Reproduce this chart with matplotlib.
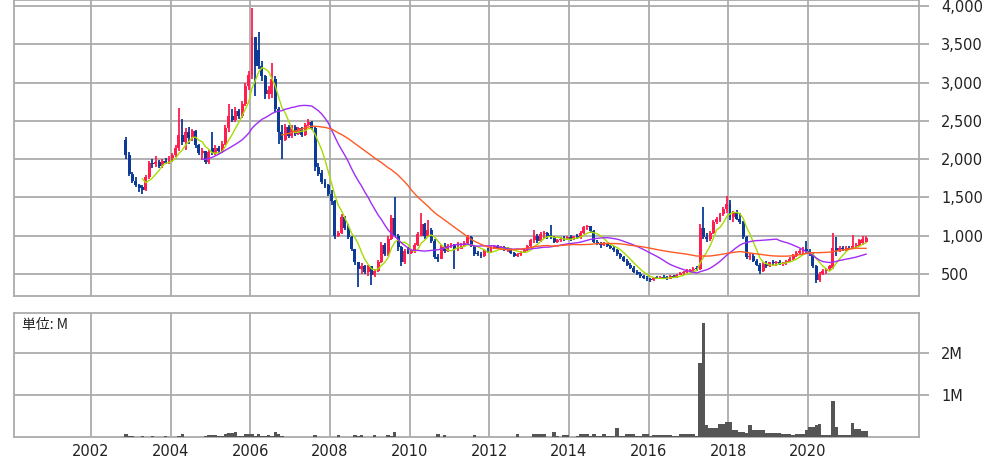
import numpy as np
import pandas as pd
import matplotlib
matplotlib.use('Agg')
import matplotlib.pyplot as plt
from matplotlib.ticker import FuncFormatter

plt.rcParams['font.family'] = ['DejaVu Sans', 'Noto Sans CJK JP']

# ---------------- data (monthly, from 2002-11 to 2021-06) ----------------
start_month = '2002-11'

opens = [
    2250, 2050,
    1800, 1720, 1660, 1640, 1600, 1760, 1950, 1930, 1960, 1910, 1980, 1950,
    2010, 2050, 2150, 2320, 2220, 2350, 2280, 2370, 2180, 2080, 2100, 1960,
    2150, 2080, 2150, 2100, 2200, 2400, 2560, 2510, 2630, 2560, 2720, 2950,
    3100, 3590, 3430, 3220, 3080, 2850, 2850, 3050, 2650, 2350, 2250, 2420,
    2300, 2420, 2330, 2400, 2320, 2450, 2480, 2400, 1900, 1820, 1700, 1660,
    1550, 1450, 1000, 1040, 1250, 1100, 980, 820, 650, 560, 600, 520,
    600, 480, 540, 650, 880, 760, 960, 1230, 1000, 850, 650, 800,
    780, 800, 880, 1000, 1150, 1000, 1080, 930, 720, 700, 850, 800,
    870, 880, 830, 830, 870, 900, 980, 870, 780, 760, 730, 800,
    790, 840, 860, 840, 850, 820, 830, 780, 740, 760, 780, 810,
    860, 940, 1000, 930, 1020, 1040, 1010, 980, 920, 940, 960, 950,
    980, 960, 990, 970, 1040, 1110, 1120, 1060, 920, 900, 880, 900,
    870, 840, 810, 760, 720, 670, 620, 580, 530, 500, 470, 450,
    430, 420, 450, 440, 460, 450, 440, 470, 460, 490, 510, 530,
    540, 550, 570, 560, 1100, 980, 950, 1040, 1180, 1200, 1280, 1350,
    1420, 1250, 1300, 1220, 1180, 980, 720, 740, 670, 620, 540, 630,
    600, 650, 640, 660, 630, 650, 660, 700, 740, 780, 800, 820,
    800, 760, 600, 420, 500, 540, 560, 580, 840, 800, 840, 820,
    840, 830, 870, 880, 900, 920,
]
highs = [
    2290, 2090,
    1830, 1760, 1680, 1660, 1790, 1980, 2000, 2040, 1990, 2000, 2010, 2040,
    2080, 2180, 2670, 2520, 2400, 2420, 2390, 2380, 2200, 2140, 2110, 2120,
    2350, 2180, 2170, 2230, 2450, 2720, 2650, 2680, 2660, 2760, 3000, 3150,
    3980, 3600, 3660, 3280, 3100, 2960, 3260, 3080, 2680, 2450, 2460, 2440,
    2450, 2440, 2420, 2420, 2470, 2520, 2500, 2420, 1950, 1860, 1740, 1680,
    1600, 1460, 1060, 1280, 1260, 1150, 1000, 830, 660, 640, 620, 620,
    610, 560, 680, 920, 900, 1000, 1270, 1500, 1020, 870, 830, 850,
    830, 900, 1050, 1290, 1160, 1200, 1100, 950, 760, 880, 900, 890,
    900, 890, 920, 900, 930, 1010, 990, 880, 800, 790, 830, 840,
    860, 880, 880, 870, 860, 850, 840, 790, 780, 800, 830, 880,
    960, 1070, 1020, 1050, 1060, 1050, 1140, 1000, 960, 980, 990, 1000,
    1010, 1000, 1020, 1060, 1130, 1140, 1130, 1070, 940, 920, 920, 910,
    880, 860, 830, 780, 740, 690, 640, 600, 550, 520, 490, 470,
    450, 460, 470, 470, 480, 470, 480, 490, 500, 520, 540, 560,
    570, 590, 600, 1150, 1370, 1030, 1060, 1200, 1250, 1300, 1380, 1520,
    1460, 1320, 1330, 1300, 1190, 1000, 780, 760, 700, 640, 660, 670,
    660, 680, 670, 680, 660, 680, 720, 760, 800, 830, 850, 930,
    830, 770, 620, 520, 560, 580, 620, 1030, 980, 860, 870, 860,
    870, 1010, 900, 960, 990, 990,
]
lows = [
    2000, 1780,
    1690, 1640, 1570, 1550, 1580, 1740, 1880, 1900, 1880, 1890, 1930, 1940,
    1960, 2030, 2110, 2180, 2120, 2200, 2230, 2150, 2050, 1990, 1930, 1940,
    2050, 2060, 2070, 2080, 2180, 2350, 2480, 2490, 2520, 2540, 2700, 2900,
    3050, 2830, 3180, 3020, 2780, 2780, 2800, 2620, 2200, 2000, 2230, 2270,
    2280, 2300, 2310, 2290, 2300, 2430, 2380, 1850, 1780, 1680, 1620, 1520,
    1400, 960, 980, 1020, 1080, 950, 800, 620, 330, 500, 500, 470,
    350, 460, 520, 640, 730, 740, 940, 980, 800, 600, 630, 760,
    760, 780, 860, 990, 950, 980, 900, 700, 650, 690, 780, 790,
    840, 560, 800, 820, 850, 880, 850, 740, 740, 710, 720, 770,
    780, 820, 820, 810, 800, 790, 760, 720, 720, 740, 770, 800,
    850, 900, 900, 920, 960, 960, 960, 900, 900, 920, 930, 940,
    930, 940, 950, 960, 1020, 1080, 1040, 900, 880, 840, 860, 850,
    820, 790, 740, 700, 650, 600, 560, 510, 480, 450, 430, 410,
    390, 410, 430, 430, 440, 420, 430, 450, 450, 480, 490, 510,
    520, 530, 540, 550, 950, 920, 930, 1020, 1150, 1180, 1260, 1300,
    1200, 1180, 1200, 1150, 950, 700, 680, 650, 600, 500, 530, 580,
    590, 620, 610, 620, 600, 620, 650, 680, 720, 750, 760, 780,
    740, 580, 380, 400, 480, 500, 540, 570, 740, 790, 800, 800,
    810, 820, 840, 860, 880, 900,
]
closes = [
    2050, 1800,
    1720, 1660, 1620, 1600, 1760, 1950, 1930, 1960, 1910, 1980, 1950, 2010,
    2050, 2150, 2320, 2220, 2350, 2280, 2370, 2180, 2080, 2100, 1960, 2090,
    2080, 2150, 2100, 2200, 2400, 2560, 2510, 2630, 2560, 2720, 2950, 3100,
    3600, 3220, 3220, 3080, 2850, 2900, 3050, 2650, 2350, 2250, 2420, 2300,
    2420, 2330, 2400, 2320, 2450, 2480, 2400, 1900, 1800, 1700, 1650, 1550,
    1450, 1000, 1040, 1250, 1100, 980, 820, 650, 560, 600, 520, 600,
    480, 540, 650, 880, 760, 960, 1230, 1000, 850, 650, 800, 780,
    800, 880, 1020, 1150, 1000, 1080, 930, 720, 700, 850, 800, 870,
    880, 830, 830, 870, 900, 980, 870, 760, 760, 730, 800, 790,
    840, 860, 840, 850, 820, 830, 780, 740, 760, 780, 810, 860,
    940, 1000, 930, 1020, 1040, 980, 980, 920, 940, 960, 950, 980,
    960, 990, 970, 1040, 1110, 1120, 1060, 920, 900, 880, 900, 870,
    840, 810, 760, 720, 670, 620, 580, 530, 500, 470, 450, 430,
    420, 450, 440, 460, 450, 440, 470, 460, 490, 510, 530, 540,
    550, 570, 560, 1100, 980, 950, 1040, 1180, 1220, 1280, 1350, 1420,
    1250, 1300, 1220, 1180, 980, 720, 740, 670, 620, 540, 630, 600,
    650, 640, 660, 630, 650, 660, 700, 740, 780, 800, 820, 800,
    760, 600, 420, 500, 540, 560, 600, 840, 800, 840, 820, 840,
    830, 870, 880, 940, 960, 970,
]
volumes_m = [
    0.08, 0.02,
    0.02, 0.01, 0.01, 0.02, 0.01, 0.01, 0.02, 0.01, 0.01, 0.01, 0.02, 0.01,
    0.01, 0.01, 0.02, 0.08, 0.01, 0.01, 0.01, 0.01, 0.01, 0.01, 0.02, 0.05,
    0.05, 0.05, 0.02, 0.03, 0.08, 0.09, 0.10, 0.11, 0.03, 0.02, 0.08, 0.08,
    0.08, 0.03, 0.08, 0.02, 0.03, 0.05, 0.02, 0.11, 0.08, 0.02, 0.01, 0.01,
    0.01, 0.01, 0.01, 0.01, 0.01, 0.01, 0.01, 0.05, 0.01, 0.01, 0.01, 0.01,
    0.01, 0.01, 0.05, 0.01, 0.01, 0.01, 0.01, 0.05, 0.03, 0.05, 0.01, 0.01,
    0.01, 0.05, 0.01, 0.01, 0.01, 0.05, 0.02, 0.11, 0.01, 0.01, 0.01, 0.01,
    0.01, 0.01, 0.01, 0.01, 0.01, 0.01, 0.01, 0.01, 0.08, 0.01, 0.05, 0.01,
    0.01, 0.01, 0.01, 0.01, 0.01, 0.01, 0.01, 0.05, 0.01, 0.01, 0.01, 0.01,
    0.01, 0.01, 0.01, 0.01, 0.01, 0.01, 0.01, 0.01, 0.08, 0.01, 0.01, 0.01,
    0.01, 0.07, 0.07, 0.06, 0.07, 0.01, 0.01, 0.11, 0.02, 0.01, 0.05, 0.05,
    0.01, 0.01, 0.02, 0.08, 0.08, 0.08, 0.02, 0.08, 0.03, 0.02, 0.08, 0.02,
    0.02, 0.03, 0.21, 0.03, 0.02, 0.08, 0.08, 0.08, 0.02, 0.02, 0.08, 0.08,
    0.02, 0.05, 0.05, 0.05, 0.05, 0.05, 0.05, 0.02, 0.02, 0.08, 0.08, 0.08,
    0.08, 0.08, 0.03, 1.76, 2.73, 0.29, 0.21, 0.21, 0.21, 0.32, 0.32, 0.36,
    0.36, 0.16, 0.16, 0.11, 0.11, 0.10, 0.29, 0.16, 0.16, 0.16, 0.16, 0.10,
    0.10, 0.10, 0.10, 0.10, 0.08, 0.08, 0.08, 0.05, 0.08, 0.08, 0.08, 0.16,
    0.24, 0.24, 0.29, 0.32, 0.05, 0.05, 0.05, 0.86, 0.24, 0.05, 0.05, 0.05,
    0.05, 0.34, 0.19, 0.19, 0.15, 0.15,
]
ma_windows = [6, 24, 48]
year_ticks = [2002, 2004, 2006, 2008, 2010, 2012, 2014, 2016, 2018, 2020]
price_ticks = [500, 1000, 1500, 2000, 2500, 3000, 3500, 4000]
vol_ticks = [1, 2]
vol_tick_labels = ['1M', '2M']
unit_label = '単位: M'

# ---------------- styling ----------------
RED = '#ff1e4e'
BLUE = '#0c3a96'
MA_COLORS = ['#a6dc00', '#a22cf5', '#ff5a22']
GRID = '#ababab'
TXT = '#222222'

o = np.array(opens, float)
h = np.array(highs, float)
l = np.array(lows, float)
c = np.array(closes, float)
v = np.array(volumes_m, float)

dates = pd.date_range(start_month, periods=len(c), freq='MS')
xpos = dates.year + (dates.month - 0.5) / 12.0

fig = plt.figure(figsize=(9.89, 4.61), dpi=100)
ax = fig.add_axes([14 / 989, 165 / 461, 905 / 989, 296 / 461])
axv = fig.add_axes([14 / 989, 24 / 461, 905 / 989, 124 / 461])

xmin, xmax = 2000.067, 2022.787

for a in (ax, axv):
    a.set_xlim(xmin, xmax)
    a.set_xticks(year_ticks)
    a.grid(True, color=GRID, linewidth=1.3)
    a.set_axisbelow(True)
    for s in a.spines.values():
        s.set_color(GRID)
        s.set_linewidth(1.3)
    a.yaxis.tick_right()
    a.tick_params(axis='y', direction='out', length=7, width=1.3, color=GRID,
                  labelsize=10.5, labelcolor=TXT, pad=9)
    a.tick_params(axis='x', length=0, labelsize=10.5, labelcolor=TXT, pad=5)

# candles
up = c >= o
colors = np.where(up, RED, BLUE)
ax.vlines(xpos, l, h, colors=colors, linewidth=1.3, zorder=3)
body_bottom = np.minimum(o, c)
body_h = np.maximum(np.abs(c - o), 14)
ax.bar(xpos, body_h, bottom=body_bottom, width=0.074, color=colors,
       linewidth=0, zorder=3)

# moving averages
cs = pd.Series(c)
for w, col in zip(ma_windows, MA_COLORS):
    ma = cs.rolling(w).mean()
    ax.plot(xpos, ma, color=col, linewidth=1.0, zorder=4)

ax.set_ylim(212, 4078)
ax.set_yticks(price_ticks)
ax.yaxis.set_major_formatter(FuncFormatter(lambda val, pos: f'{int(val):,}'))
ax.tick_params(axis='x', labelbottom=False)

# volume
axv.bar(xpos, v, width=1 / 12.0, color='#555555', linewidth=0, zorder=3)
axv.set_ylim(0, 2.96)
axv.set_yticks(vol_ticks)
axv.set_yticklabels(vol_tick_labels)
axv.set_xticklabels([str(y) for y in year_ticks])
axv.text(0.009, 0.9, unit_label, transform=axv.transAxes, ha='left', va='center',
         fontsize=10, color=TXT, family=['Noto Sans CJK JP', 'DejaVu Sans'])

fig.savefig('out.png', dpi=100)
